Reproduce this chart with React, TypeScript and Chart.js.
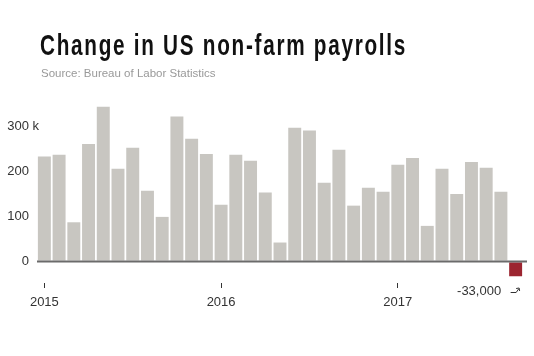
import React, { useEffect, useLayoutEffect, useRef } from 'react';
import { Chart, registerables } from 'chart.js';

Chart.register(...registerables);

const months = [
  'Jan 2015', 'Feb 2015', 'Mar 2015', 'Apr 2015', 'May 2015', 'Jun 2015',
  'Jul 2015', 'Aug 2015', 'Sep 2015', 'Oct 2015', 'Nov 2015', 'Dec 2015',
  'Jan 2016', 'Feb 2016', 'Mar 2016', 'Apr 2016', 'May 2016', 'Jun 2016',
  'Jul 2016', 'Aug 2016', 'Sep 2016', 'Oct 2016', 'Nov 2016', 'Dec 2016',
  'Jan 2017', 'Feb 2017', 'Mar 2017', 'Apr 2017', 'May 2017', 'Jun 2017',
  'Jul 2017', 'Aug 2017', 'Sep 2017',
];

// change in payrolls, thousands
const payrollChange = [
  233, 237, 87, 261, 344, 206, 253, 157, 99, 322, 273, 239,
  126, 237, 224, 153, 42, 297, 291, 175, 248, 124, 164, 155,
  215, 230, 79, 206, 150, 221, 208, 155, -33,
];

const yTickValues = [0, 100, 200, 300];
const yTopSuffix = ' k';
const yearTickIndexes = [0, 12, 24];
const yearTickLabels = ['2015', '2016', '2017'];
const lastValueLabel = '-33,000';

const titleText = 'Change in US non-farm payrolls';
const sourceText = 'Source: Bureau of Labor Statistics';

const FONT = '"Liberation Sans", Arial, sans-serif';
const GRAY_BAR = '#c8c6c1';
const RED_BAR = '#9c2530';
const TEXT = '#333333';
const TITLE_WIDTH = 367;

const overlayPlugin = {
  id: 'overlay',
  afterDatasetsDraw(chart: any) {
    const { ctx, chartArea, scales } = chart;
    const y = scales.y;
    const y0 = y.getPixelForValue(0);
    ctx.save();
    ctx.strokeStyle = '#6b6b6b';
    ctx.lineWidth = 2;
    ctx.beginPath();
    ctx.moveTo(chartArea.left, y0);
    ctx.lineTo(chartArea.right + 4, y0);
    ctx.stroke();
    ctx.restore();
  },
  afterDraw(chart: any) {
    const { ctx, scales } = chart;
    const x = scales.x;
    const y = scales.y;
    ctx.save();
    ctx.font = `13px ${FONT}`;
    ctx.fillStyle = TEXT;
    ctx.textBaseline = 'middle';
    // " k" suffix after the top tick label
    const topVal = yTickValues[yTickValues.length - 1];
    const labelRight = y.right - 8;
    ctx.textAlign = 'left';
    ctx.fillText(yTopSuffix, labelRight, y.getPixelForValue(topVal));

    // last value annotation
    const lastIdx = payrollChange.length - 1;
    const cx = x.getPixelForValue(lastIdx);
    const meta = chart.getDatasetMeta(0);
    const bar = meta.data[lastIdx];
    const half = bar.width / 2;
    const ty = y.getPixelForValue(payrollChange[lastIdx]) + 15;
    ctx.textAlign = 'right';
    ctx.fillText(lastValueLabel, cx - half - 8, ty);

    // small "right then up" arrow pointing to the bar
    const ay = Math.round(ty) + 1.5;
    ctx.strokeStyle = TEXT;
    ctx.lineWidth = 1;
    ctx.beginPath();
    ctx.moveTo(cx - 5, ay);
    ctx.lineTo(cx + 0.5, ay);
    ctx.lineTo(cx + 3, ay - 3.5);
    ctx.stroke();
    ctx.beginPath();
    ctx.moveTo(cx + 0.5, ay - 4);
    ctx.lineTo(cx + 3.5, ay - 4.5);
    ctx.lineTo(cx + 4, ay - 1.5);
    ctx.stroke();
    ctx.restore();
  },
};

export default function App() {
  const canvasRef = useRef<HTMLCanvasElement | null>(null);
  const titleRef = useRef<HTMLDivElement | null>(null);

  useLayoutEffect(() => {
    const el = titleRef.current;
    if (!el) return;
    el.style.transform = 'none';
    const w = el.getBoundingClientRect().width;
    if (w > 0) el.style.transform = `scaleX(${TITLE_WIDTH / w})`;
  }, []);

  useEffect(() => {
    const canvas = canvasRef.current;
    if (!canvas) return;
    const chart = new Chart(canvas, {
      type: 'bar',
      data: {
        labels: months,
        datasets: [
          {
            data: payrollChange,
            backgroundColor: payrollChange.map((v) => (v < 0 ? RED_BAR : GRAY_BAR)),
            borderWidth: 0,
            barPercentage: 0.88,
            categoryPercentage: 1,
          },
        ],
      },
      options: {
        responsive: false,
        animation: false,
        devicePixelRatio: 1,
        layout: { padding: { top: 104, right: 11, left: 0, bottom: 0 } },
        plugins: {
          legend: { display: false },
          tooltip: { enabled: false },
          title: { display: false },
        },
        scales: {
          x: {
            type: 'category',
            offset: true,
            afterFit: (s: any) => {
              s.height = 73;
            },
            border: { display: false },
            grid: {
              offset: false,
              drawOnChartArea: false,
              drawTicks: true,
              tickLength: 5,
              lineWidth: 1,
              color: (c: any) => (yearTickIndexes.includes(c.index) ? TEXT : 'rgba(0,0,0,0)'),
            },
            ticks: {
              autoSkip: false,
              maxRotation: 0,
              minRotation: 0,
              padding: 7,
              color: TEXT,
              font: { family: FONT, size: 13 },
              callback: (_v: any, i: number) => {
                const k = yearTickIndexes.indexOf(i);
                return k >= 0 ? yearTickLabels[k] : '';
              },
            },
          },
          y: {
            type: 'linear',
            min: -48,
            max: 350,
            z: 1,
            afterFit: (s: any) => {
              s.width = 37;
            },
            afterBuildTicks: (s: any) => {
              s.ticks = yTickValues.map((v) => ({ value: v }));
            },
            border: { display: false },
            grid: {
              drawTicks: false,
              lineWidth: 2,
              color: (c: any) =>
                c.tick && c.tick.value === 0 ? 'rgba(0,0,0,0)' : 'rgba(255,255,255,0.6)',
            },
            ticks: {
              padding: 8,
              color: TEXT,
              font: { family: FONT, size: 13 },
              callback: (v: any) => String(v),
            },
          },
        },
      },
      plugins: [overlayPlugin],
    });
    return () => chart.destroy();
  }, []);

  return (
    <div
      style={{
        position: 'fixed',
        left: 0,
        top: 0,
        width: 534,
        height: 356,
        background: '#ffffff',
        overflow: 'hidden',
      }}
    >
      <canvas
        ref={canvasRef}
        width={534}
        height={356}
        style={{ position: 'absolute', left: 0, top: 0, width: 534, height: 356 }}
      />
      <div
        ref={titleRef}
        style={{
          position: 'absolute',
          left: 40,
          top: 28,
          fontFamily: FONT,
          fontWeight: 700,
          fontSize: 30,
          lineHeight: '34px',
          letterSpacing: '2.5px',
          color: '#111111',
          whiteSpace: 'nowrap',
          transformOrigin: '0 0',
          display: 'inline-block',
        }}
      >
        {titleText}
      </div>
      <div
        style={{
          position: 'absolute',
          left: 41,
          top: 67,
          fontFamily: FONT,
          fontSize: 11.5,
          lineHeight: '13px',
          color: '#999999',
          whiteSpace: 'nowrap',
        }}
      >
        {sourceText}
      </div>
    </div>
  );
}
